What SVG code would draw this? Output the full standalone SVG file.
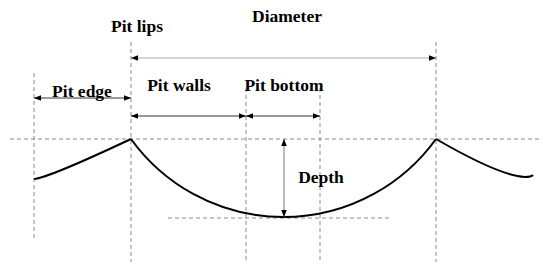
<svg xmlns="http://www.w3.org/2000/svg" width="550" height="271" viewBox="0 0 550 271">
<style>
.g{stroke:#8a8a8a;stroke-width:1;stroke-dasharray:4,3;fill:none}
.a{stroke:#333;stroke-width:1;fill:none;marker-start:url(#ms);marker-end:url(#me)}
.t{font-family:"Liberation Serif",serif;font-weight:bold;font-size:17.5px;fill:#000}
.c{stroke:#000;stroke-width:2;fill:none}
</style>
<defs>
<marker id="me" viewBox="0 0 10 10" refX="10" refY="5" markerWidth="7" markerHeight="7" markerUnits="userSpaceOnUse" orient="auto"><path d="M0,1L10,5L0,9z" fill="#000"/></marker>
<marker id="ms" viewBox="0 0 10 10" refX="0" refY="5" markerWidth="7" markerHeight="7" markerUnits="userSpaceOnUse" orient="auto"><path d="M10,1L0,5L10,9z" fill="#000"/></marker>
</defs>
<g id="guides">
<line class="g" x1="34" y1="73" x2="34" y2="238"/>
<line class="g" x1="131" y1="42" x2="131" y2="262"/>
<line class="g" x1="246" y1="88" x2="246" y2="260"/>
<line class="g" x1="320" y1="88" x2="320" y2="260"/>
<line class="g" x1="436" y1="42" x2="436" y2="262"/>
<line class="g" x1="10" y1="139" x2="542" y2="139"/>
<line class="g" x1="168" y1="218" x2="389" y2="218"/>
</g>
<g id="profile">
<path class="c" d="M34,179 Q48,178 131,139"/>
<path class="c" d="M131,139 A188,188 0 0 0 436,139"/>
<path class="c" d="M436,139 Q500,176 525,177 Q531,177 533,175"/>
</g>
<g id="connectors">
<line class="a" x1="131" y1="58" x2="436" y2="58" style="stroke:#aaa"/>
<line class="a" x1="34" y1="98" x2="131" y2="98"/>
<line class="a" x1="131" y1="116" x2="246" y2="116"/>
<line class="a" x1="246" y1="116" x2="320" y2="116"/>
<line class="a" x1="284" y1="139" x2="284" y2="217" style="stroke:#777"/>
</g>
<g id="labels">
<text class="t" x="287" y="22" text-anchor="middle">Diameter</text>
<text class="t" x="137" y="32" text-anchor="middle">Pit lips</text>
<text class="t" x="82" y="97" text-anchor="middle">Pit edge</text>
<text class="t" x="179" y="91" text-anchor="middle">Pit walls</text>
<text class="t" x="284" y="91" text-anchor="middle">Pit bottom</text>
<text class="t" x="321" y="183" text-anchor="middle">Depth</text>
</g>
</svg>
